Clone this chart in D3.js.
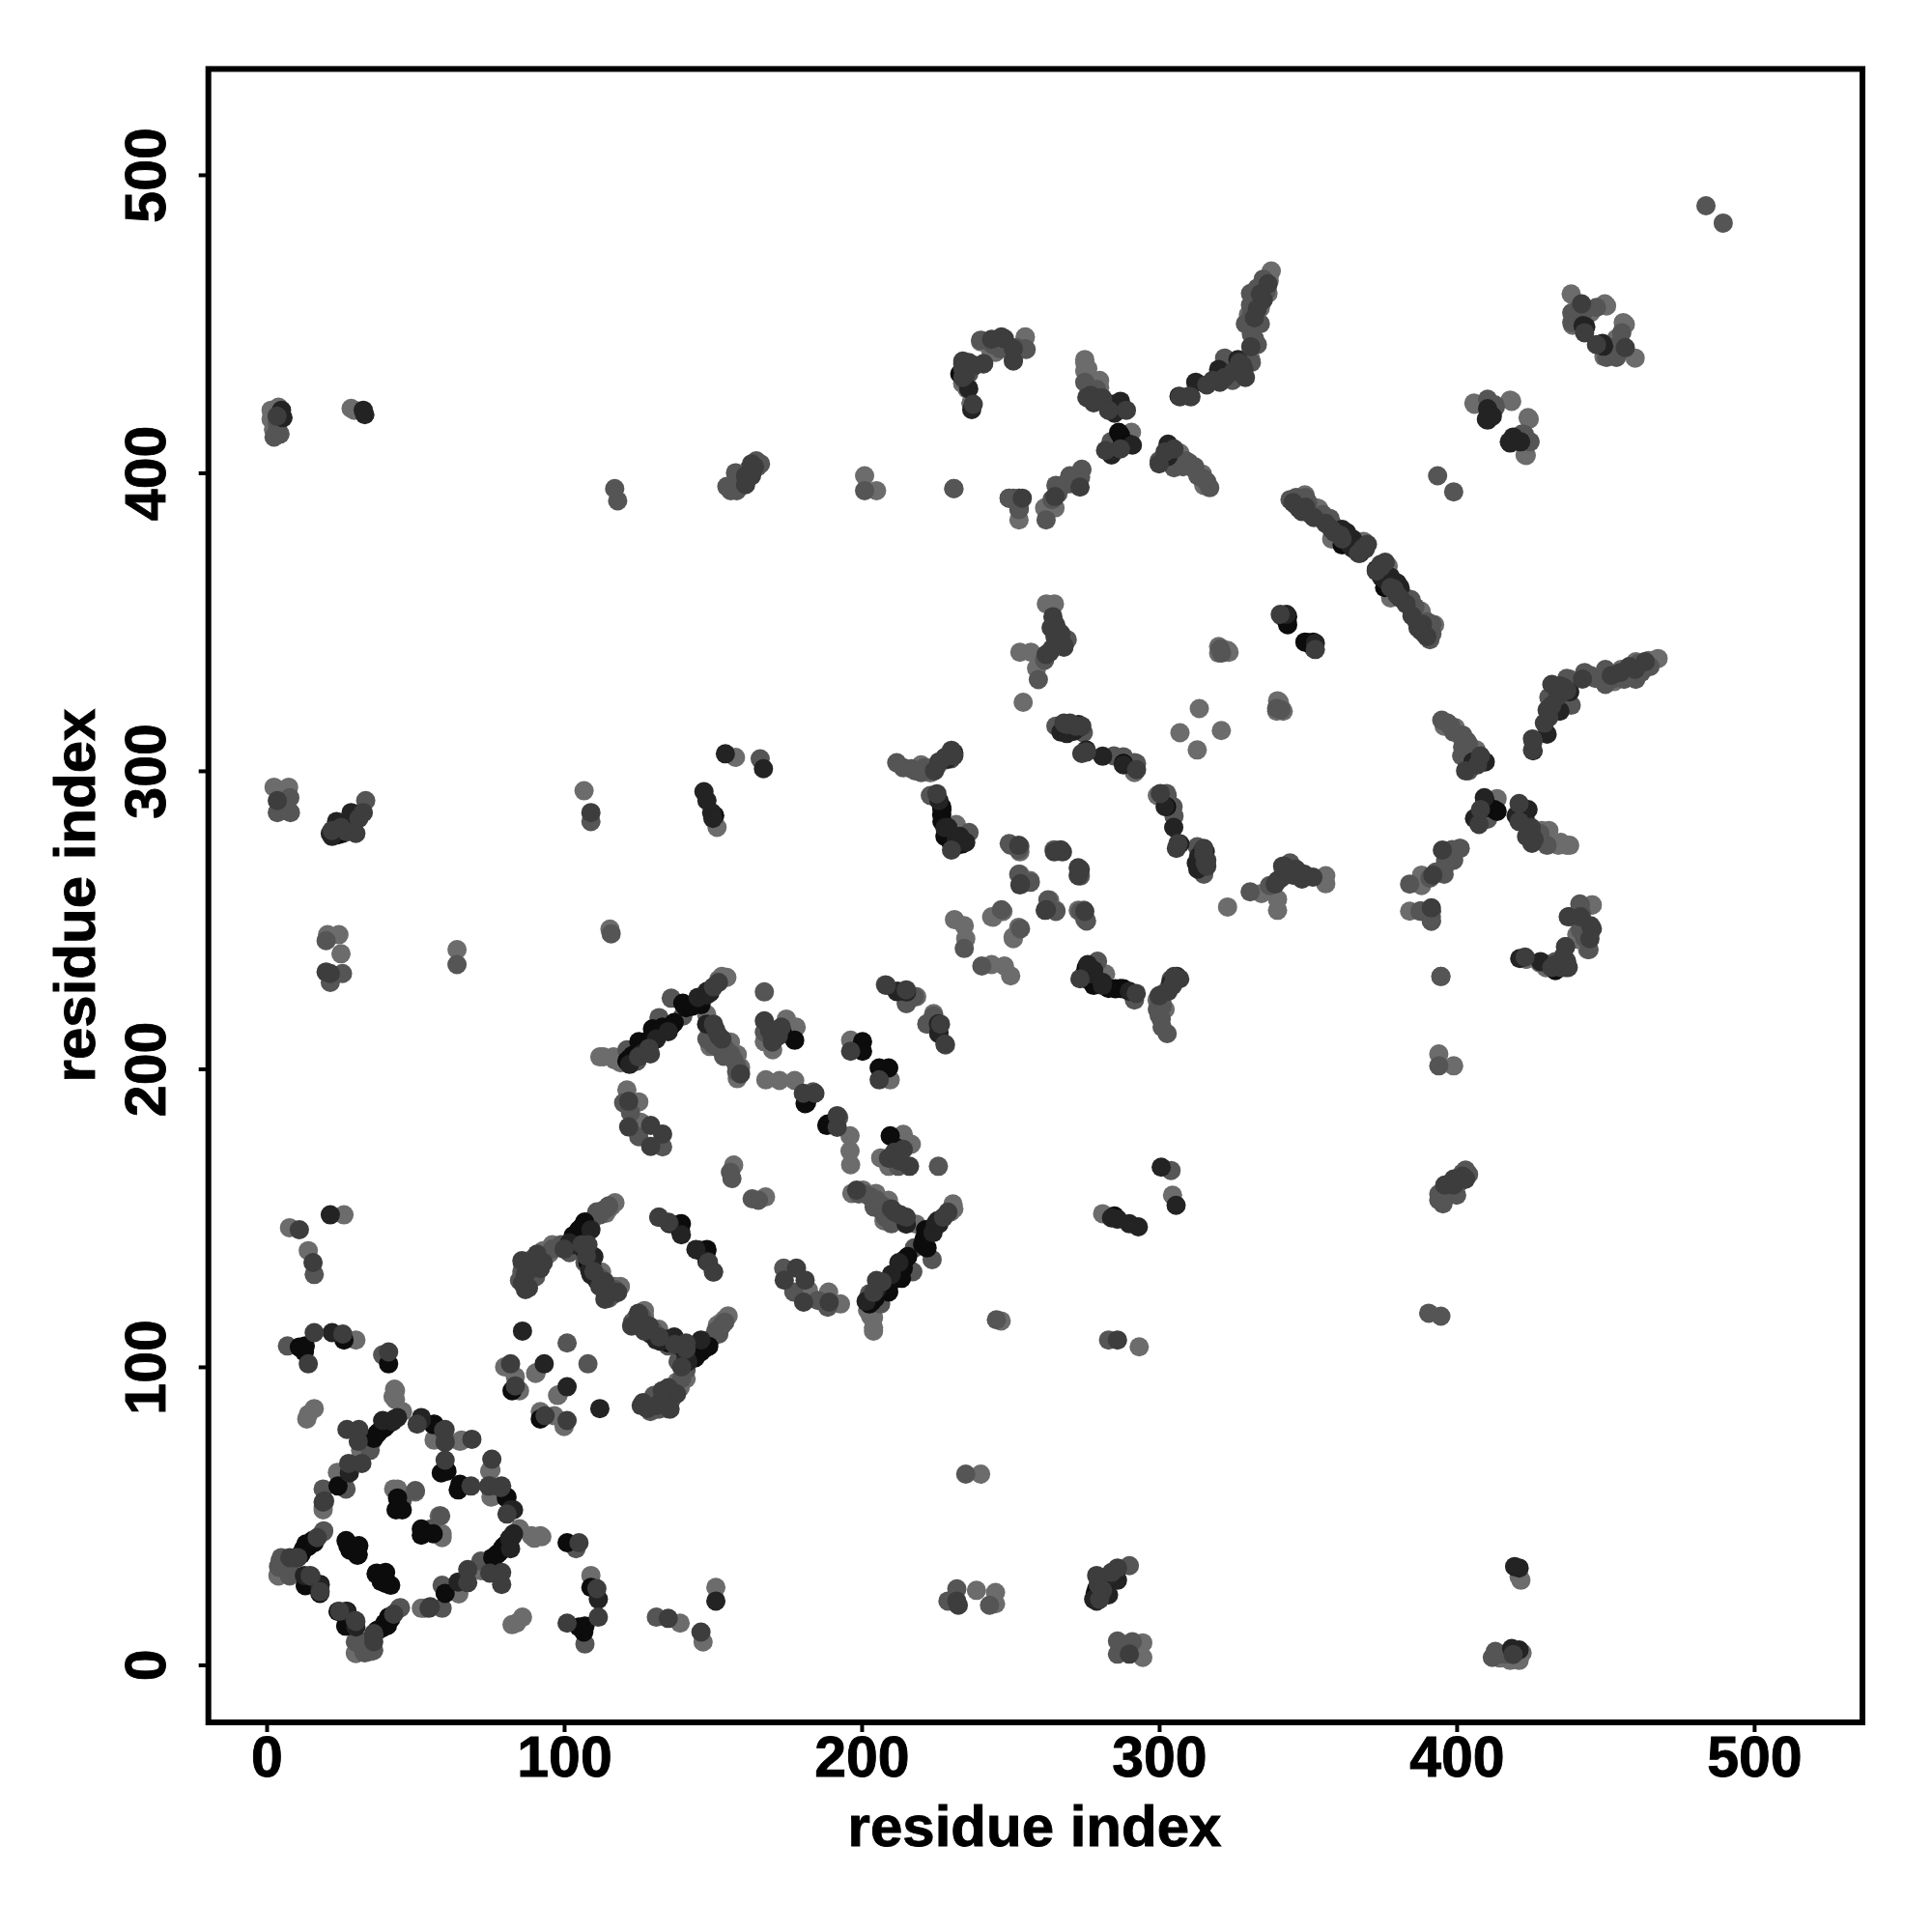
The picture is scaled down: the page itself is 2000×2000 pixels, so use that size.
<!DOCTYPE html>
<html>
<head>
<meta charset="utf-8">
<script src="https://cdn.jsdelivr.net/npm/d3@7"></script>
<style>html,body{margin:0;padding:0;background:#fff}</style>
</head>
<body>
<svg id="chart" width="2000" height="2000"></svg>
<script>
// Contact map: one half of a symmetric matrix, [residue i, residue j], i < j, grouped by grey level
const contactsLight = [[30,109],[43,92.5],[42.5,90],[43.3,89],[43.3,92],[14,84],[13.5,82.5],[16,86],[45.7,85],[31.6,72],[24.6,64.4],[19,52],[4.5,35],[4,29.8],[7.8,29.8],[3.8,30],[13,26.7],[19,53],[42.7,59],[50,58],[44,59],[56.5,76],[65,75],[60,65.5],[65.5,75.4],[56.3,75.4],[80,100],[83.6,96.7],[85,92],[90.6,98],[90.4,97.8],[23.8,64.6],
[1.5,421],[2.3,414.6],[28.4,421.6],[29.5,421],[7.7,146.7],[26,151],[14,139],[24.3,245],[25,238.6],[20.5,245],[64,240],[2.5,294.5],[7.4,294.5],[106.7,293.3],[157.6,304.5],[151.4,281],
[115.4,246.9],[113.2,204],[116.6,204],[154.7,230.7],[147.9,218.3],[149,207.5],[155.9,209],[158.2,204.8],[159.3,200.5],[158.2,196.7],[167.3,209.1],[170.1,206.4],[174.7,216.7],[178,214],[218.5,224.2],[221.9,215],[196.3,209.6],[172.4,196.1],[177.5,196.1],[167.8,196.3],[121.1,192.9],[125.1,188.9],[125.7,182.1],[157,167.7],[117.1,155.1],[113.7,152.9],[97.8,140.5],[112.6,131.8],[118.9,127],[92.7,138.3],[87,129.1],
[201,399],[205,394],[252.9,384.2],[265,388.2],[261.5,388.2],[274,401],[275,434.2],[275,438],[280,428.6],[275,437],[235.5,428],[240,444],[255,445.5],[290.7,413.6],[315,395.8],[314.5,399.6],[311.8,401.2],[307,406.6],[337.7,467.7],[336.6,460.2],[334,455.3],[330.8,438],
[438.5,460],[450.4,456],[444,453.3],[439,449.5],[456.7,449.8],[453.7,445],[406,423],[418.5,424],[424.4,418],[423.4,405.8],[346,389.5],[353.6,388],[358,377.8],[368.7,377],[352.8,388.2],[349,392.6],[345.8,389.3],[340.4,323],[341.7,320],[339.5,320],
[262.1,356],[264.8,356],[253.2,339.8],[256.9,339.8],[258.8,334.4],[254.3,323],[223.1,299.3],[219.9,299.8],[231.8,282],[253.2,272.8],[253.2,265.3],[263.2,256.6],[247.5,252.8],[244.2,250.9],[251,243.7],[231.2,250.1],[234.5,248],[235,243.7],[299.4,291.7],[307,312.8],[313.5,320.9],[323.5,339.8],[321,341],
[231,394.7],[423.4,236.8],[430,234],[440.4,243.5],[245,440.4],[255,445.6],[243.5,440.4],[236.8,423.4],[234,430],
[4,422],[3,418.5],[1.5,418],[337,466],[336.5,463],[334,459.5],[332,456],[337,464.5],[330,453],[152,230],[153,231],[117,203],[119,202],[112,204],[115,153],[116,154],[114,151.5],[117,127],[96,141],[95,138],[93,139],[341,321],[340,322],[220,302],[222,301],[280,431],[276,435],[277,430],[354,386],[350,390],[345,391],[347,390.5]];

const contactsMid = [[7,107],[39,104],[35.4,75],[34.8,72],[26.7,59],[19,59],[19.2,45],[7.8,33.5],[4,33],[4.3,32.7],[4.9,36],[7.6,30],[44.6,19],[45.6,55.2],[50,58.5],[60,74.7],[60,75.4],[85.8,131.8],[101,108],[16,131],[26.7,13.5],
[3.6,416.6],[3.6,414],[117,394.7],[118,390.6],[154.7,395.4],[157.6,400],[158,394],[164.6,404],[201,394],[33.3,290],[7.8,291],[3.6,286],[8,286],[109,283],[165.9,304],[20,243],[25.5,232],[21.4,229],[64,235],
[115.8,245.3],[124.5,202.6],[121.1,206.4],[131.9,217.2],[139.9,217.7],[136,223.7],[150.2,208],[153.6,204.2],[167.3,225.8],[167.3,212.3],[215.1,222],[224.2,217.7],[228.2,208],[183.7,192.3],[120,188.6],[122.3,185.3],[125.1,177.2],[133.1,173.8],[155.9,165.3],[156.4,163.2],[110.9,150.7],[101.8,138.3],[116.6,124.3],[90.4,130.2],[131.9,150.2],
[251,391.5],[253,388],[252.9,387.7],[252.9,391.5],[249.6,391.5],[274,401.2],[273.6,398.5],[270,396.3],[265.3,395.8],[262,384.2],[275,430.4],[279,428],[231,394.7],[234.6,431],[244,443],[251,438],[255.3,441.4],[252,442],[310,403.4],[305,401.7],[283.8,410.4],[331,453],[330.7,456.3],[330.7,460.2],[331,446.6],[324.7,431],[323.5,434.7],[322,438.5],[302,405.6],
[442.3,455.5],[447,455.5],[439.6,452],[453.7,442.5],[450.4,438.7],[453.7,438.7],[410.4,424.7],[413,422],[422.8,412.8],[393.6,399],[346,391.7],[349.2,391.7],[353.6,385],[357.4,384.7],[341,352],[321,339.5],[320.5,340.9],
[261.5,337.1],[259.4,330.6],[269.1,344],[265.3,315],[274.5,312.8],[284.8,305],[288,304.7],[292.4,302.5],[228,303.6],[225.3,301.5],[223.1,291.7],[236.1,279.3],[250.2,275],[253.2,274.7],[273.5,264.7],[256.7,262.6],[265.3,252.8],[273.5,252.8],[275.6,249.6],[253.4,247],[234.5,240.4],[211.8,302.7],[216.7,300.7],[220,299.4],[302.7,291.7],
[387.7,252.9],[391.5,252.9],[391.5,249.6],[241,436.6],[246.6,441.6],[255,441.6],[240,444.5],[236,433.2],[483.8,489.6],
[2.5,412],[4.5,413],[156,394],[162,401],[165,402],[166,403],[333,462],[336,461],[335,465],[332,458],[329,450],[331,449],[332,445],[333,443],[334,450],[331,437],[328,433],[230,304],[223,300],[221,301],[218,300],[214,301],[148,210],[150,210],[152,207],[154,207],[156,205],[157,203],[158,201],[158,199],[96,139.5],[99,141],[109,149],[111,152],[112,151],[114,153],[115,154],[107,135],[106,145.5],[112,130],[117,126],[115,123],[89,136],[87,133],[86,134.5],[85,129],[88,128],[300,404],[304,403],[306,403.5],[308,402],[309,404],[312,402],[313,399],[316,397],[317,395],[315,398],[264,391],[266,393],[268,396],[270,399],[272,397],[348,390],[350,390],[351,386],[355,386],[358,383],[344,391]];

const contactsDark = [[14,101],[16,111.5],[25.6,111],[41,105],[31,79],[27,79],[30.8,75],[32,67.6],[27.6,67.6],[19,54.6],[17,42.7],[10.5,36],[7.8,36],[9.7,36],[14.9,29.8],[14.6,30],[18,24.5],[60,79],[59.5,78.7],[50.6,80.8],[60,74.7],[69,75.7],[60,68.7],[82,101],[83.6,93.6],[55,19.5],
[11,146],[15.6,135],[21.4,232],[3.6,290],[32.5,286],[109,286],
[150.2,227.5],[151.9,229],[128.5,206.9],[150.2,215],[159.3,198.3],[167.3,216.1],[170.1,210.2],[208.3,228],[226.5,215],[196.3,205.9],[180.4,191.8],[184.3,191.8],[121.7,189.1],[129.1,181],[121.7,180.5],[133.1,178.1],[129.1,174],[148.5,135.1],[150.2,131.8],[108,141],[107.5,137.2],[113.7,128.6],[113.7,122.7],[90.9,137.8],[90.9,134],[85.8,135.6],[87,125.9],
[254,391.5],[265,392],[273.4,395.2],[275.7,425.3],[280,425],[277,426],[281,425],[234,436.6],[237.5,423],[248,445],[161,399],[164,402],[336.6,463.4],[330.8,442.3],[328.5,434.7],[320.4,430.4],[310.7,425.5],[307,425.5],[310,425.7],
[443,447],[456.7,442],[349.2,388.5],[358,381],[361.5,377.8],[369.3,374.5],[368.5,374.7],[352.5,340.7],
[264.3,351.7],[265.3,348.8],[263.7,348],[263.2,339.8],[269.1,315.5],[275.6,306.3],[274,305.8],[292.4,300.4],[230.2,306.9],[225.3,292.3],[230.2,273.4],[264.8,272.8],[267.5,272.8],[273.5,266.9],[253.2,261.7],[262.1,253.4],[275,252.8],
[251,437.5],[251,441.6],[247,445.6],[243.7,444.8],[241,436.6],[234,437.5],
[231,305],[228,304.5],[226,303],[224.5,300],[333,455],[332,452],[329,432],[328,436],[327,437],[325,434],[322,432],[318,431],[316,429.5],[335,458],[334,460],[278,423.5],[283,421],[289,421],[282,407.5],[300,403],[302,407],[305,408],[287,408],[170,209],[171,212],[169,213],[172,211],[173,214],[125,204],[129,205],[151,213],[152,211],[153,210],[118,125],[115,126],[112,127],[110,132],[93,135],[92,133],[89,133],[87,131],[86,128],[88,126.5],[106,141],[100,139.5],[345,390],[347,388],[348,387],[352,385],[356,383],[359,380],[361,379],[367,373],[370,376],[163,403],[163,399],[161,396],[3.5,419],[234,435],[236,437],[238,436],[235,433],[234,432],[265,345],[266,347],[264,341],[262,339],[268,342],[267,346],[268,341.5],[270,316],[272,315],[274,315],[268,316],[20,232.5],[27,279.5],[30,279],[31,284],[22,280],[25,281]];

const contactsNear = [[22,111.5],[44,83],[42.4,81.7],[27.8,64.4],[12.7,30],[17.9,26.7],[52,82],[52,83],[86,112],[93.3,101],
[5,421],[32.5,421],[33,419.5],[21.4,151],[21.4,279],[23.5,283],[28.4,286],[147,293],[149.6,286],[154.2,305.7],[167,300.7],
[147.9,224.8],[147.9,215],[212.2,226],[215.1,225.8],[225.9,211.8],[135.4,148],[139.4,144.3],[108.6,132.4],[101.8,141.6],
[285,420],[284,423],[287,422],[291,409.3],[284,406],[287,422.3],[287,424],[283,421.8],[303,409.6],[303,405.5],[306.7,425.7],[326.5,438],[320,434.7],[312.3,430.4],
[443.4,449],[449.4,442.5],[410.4,421.5],[410.4,417.7],[418,410],[361.5,381],[365,377.8],[365,374.7],[352.5,342.8],
[266.4,342.5],[272.9,315.5],[271.3,313.3],[281,304.9],[302,288],[228,280.9],[231.8,276.6],[307,275.5],[237,421.2],[236,428.2],
[22,278],[27,281],[30,284],[31,285.5],[148,290],[150,284],[4.5,419],[5.5,418.5],[122,201.5],[126,205],[131,210],[135,212.5],[145,224],[148,226],[149,225.5],[103,141],[109,146],[110,137],[109,131],[111,129],[229,305],[231,306],[229,304],[226,290],[229,281],[233,278],[235,276],[267,313],[269,312.5],[273,314.5],[360,380],[363,380],[364,376],[367,375.5],[367.5,373],[419,411],[412,419],[39,82],[43,82.5]];

const contactsBlack = [[11,106.6],[12.7,105],[13,107],[26,109],[41,101],[38.6,79],[37,77.4],[40,80],[24,60],[15.4,41.7],[13.2,40.6],[12,38],[14,39.7],[15.7,41.3],[13,26.6],[18,27],[17.9,24],[14.6,27.3],[26.7,41.7],[27.3,40],[31,40],[30.5,36.8],[30.8,37],[28,38.5],[45.6,52],[43.5,52],[44,56],[56,80.6],[56.3,80.8],[58.7,64.4],[60.6,65],[82.5,92],
[121.1,202.6],[125.1,209.1],[128.5,209.6],[129.7,213.4],[133.1,214],[136,214.5],[139.9,222],[145.1,222],[173.5,211.8],[177.5,209.6],[200.3,209.1],[200.3,205.9],[181.5,188.6],[181,188.3],[139.4,148],[145.6,139.1],[147.9,138.9],[106.9,148.6],[104.6,144.3],[109.2,134.5],
[226.9,288],[226.9,285.3],[233.9,275.5],[288,302.5],[286.4,413.6],[287,412.6],[233,433.2],[343.2,351.8],[343.2,349],[365,375.5],[361.5,375.8],[150.6,285],[25.5,279],
[122,203.5],[123,204.5],[126,207.5],[127,209],[130,211.5],[132,212.5],[134,213],[137,215.5],[141,220.5],[143,221],[146,221.5],[106,147],[105,146],[103,144],[106,142],[107,139],[108,135],[37.5,78],[39.5,79.5],[41,81],[36,76],[14,40.5],[12.5,39],[16,41],[11.5,37],[24,278.5],[26,280.5],[29,283],[227,287],[227,283],[228,278],[230,276],[232,275],[343,350],[362,376.5],[366,376],[287.5,409],[290,409.5]];

const shadeGroups = [
  {points: contactsLight, grey: "#6c6c6c"},
  {points: contactsMid, grey: "#555555"},
  {points: contactsBlack, grey: "#0c0c0c"},
  {points: contactsNear, grey: "#232323"},
  {points: contactsDark, grey: "#3d3d3d"}
];
const tickValues = [0, 100, 200, 300, 400, 500];
const axisTitle = "residue index";

const svg = d3.select("#chart");
const x = d3.scaleLinear().domain([-19.58, 536.4]).range([215.7, 1928]);
const y = d3.scaleLinear().domain([-19.3, 535.5]).range([1783, 71.4]);

shadeGroups.forEach(g => {
  const mirrored = g.points.concat(g.points.map(([i, j]) => [j, i]));
  svg.append("g").selectAll("circle").data(mirrored).join("circle")
    .attr("cx", d => x(d[0]))
    .attr("cy", d => y(d[1]))
    .attr("r", 10)
    .attr("fill", g.grey);
});

svg.append("rect")
  .attr("x", 215.7).attr("y", 71.4)
  .attr("width", 1928 - 215.7).attr("height", 1783 - 71.4)
  .attr("fill", "none").attr("stroke", "#000").attr("stroke-width", 6);

const fontFamily = "'Liberation Sans', Arial, sans-serif";
const gx = svg.append("g").attr("transform", "translate(0,1783)")
  .call(d3.axisBottom(x).tickValues(tickValues).tickSize(10).tickSizeOuter(0).tickPadding(0));
const gy = svg.append("g").attr("transform", "translate(215.7,0)")
  .call(d3.axisLeft(y).tickValues(tickValues).tickSize(10).tickSizeOuter(0).tickPadding(0));
[gx, gy].forEach(g => {
  g.select(".domain").remove();
  g.selectAll("line").attr("stroke", "#000").attr("stroke-width", 4);
  g.selectAll("text").attr("fill", "#000").attr("stroke", "#000").attr("stroke-width", 0.9)
    .style("font-family", fontFamily).style("font-weight", "bold").style("font-size", "59px");
});
gx.selectAll("text").attr("y", 56).attr("dy", 0);
gy.selectAll("text")
  .attr("x", 0).attr("dy", 0)
  .attr("text-anchor", "middle")
  .attr("transform", "translate(-45,0) rotate(-90)");

svg.selectAll(".axis-title").data([
  "translate(1071,1911)",
  "translate(98,927) rotate(-90)"
]).join("text")
  .attr("class", "axis-title")
  .text(axisTitle)
  .attr("transform", d => d)
  .attr("text-anchor", "middle")
  .attr("stroke", "#000").attr("stroke-width", 0.9)
  .style("font-family", fontFamily).style("font-weight", "bold").style("font-size", "60px");
</script>
</body>
</html>
